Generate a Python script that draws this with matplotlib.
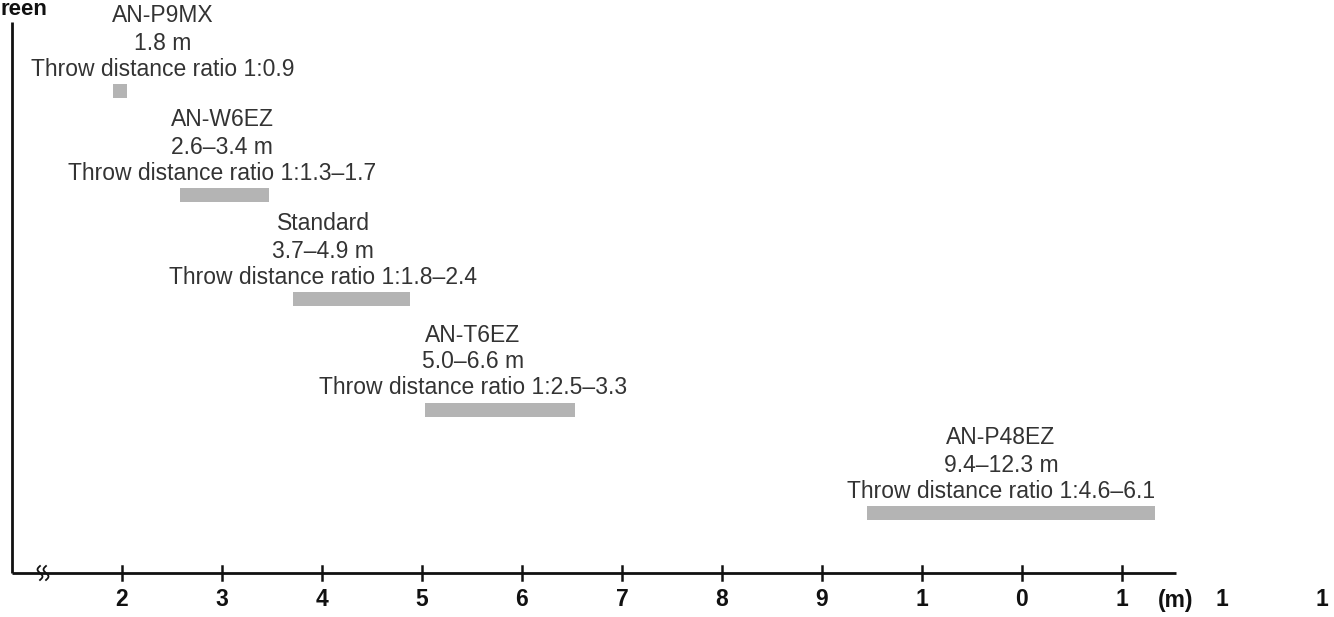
import numpy as np
import matplotlib.pyplot as plt

# data
models = ['AN-P9MX', 'AN-W6EZ', 'Standard', 'AN-T6EZ', 'AN-P48EZ']
ranges = ['1.8 m', '2.6–3.4 m', '3.7–4.9 m', '5.0–6.6 m', '9.4–12.3 m']
ratios = ['1:0.9', '1:1.3–1.7', '1:1.8–2.4', '1:2.5–3.3', '1:4.6–6.1']
bar_start = [1.91, 2.58, 3.71, 5.03, 9.45]
bar_end = [2.05, 3.47, 4.88, 6.53, 12.33]
text_x = [2.41, 3.0, 4.01, 5.51, 10.79]
tick_pos = [2, 3, 4, 5, 6, 7, 8, 9, 10, 11, 12]
tick_text = ['2', '3', '4', '5', '6', '7', '8', '9', '1', '0', '1']
extra_pos = [13, 14]
extra_text = ['1', '1']

# layout (vertical position of each bar, in pixel rows)
bar_y = [91, 195, 299, 410, 513]
axis_y = 573

plt.rcParams['font.family'] = ['Liberation Sans', 'DejaVu Sans']
fig = plt.figure(figsize=(13.34, 6.17), dpi=100)
ax = fig.add_axes([0, 0, 1, 1])
ax.set_xlim(0.78, 14.12)
ax.set_ylim(617, 0)
ax.axis('off')

grey = '#b4b4b4'
ink = '#333333'
fs = 16.5

# bars
widths = np.array(bar_end) - np.array(bar_start)
ax.barh(bar_y, widths, left=bar_start, height=14, color=grey)

# labels above bars
for i in range(len(models)):
    y = bar_y[i]
    ax.text(text_x[i], y - 75, models[i], ha='center', va='center', fontsize=fs, color=ink)
    ax.text(text_x[i], y - 48, ranges[i], ha='center', va='center', fontsize=fs, color=ink)
    ax.text(text_x[i], y - 22, 'Throw distance ratio ' + ratios[i], ha='center', va='center',
            fontsize=fs, color=ink)

# axes lines
ax.plot([0.9, 12.54], [axis_y, axis_y], color='#111111', lw=2, solid_capstyle='butt')
ax.plot([0.9, 0.9], [22, axis_y], color='#111111', lw=2, solid_capstyle='butt')

# ticks
tfs = 16.5
for p, t in zip(tick_pos, tick_text):
    ax.plot([p, p], [566, 580], color='#111111', lw=1.8)
    ax.text(p, 600, t, ha='center', va='center', fontsize=tfs, fontweight='bold', color='#111111')
ax.text(12.54, 600, '(m)', ha='center', va='center', fontsize=tfs, fontweight='bold', color='#111111')
for p, t in zip(extra_pos, extra_text):
    ax.text(p, 600, t, ha='center', va='center', fontsize=tfs, fontweight='bold', color='#111111')

# axis break mark
s = np.linspace(-1, 1, 20)
for dx in (1.18, 1.24):
    ax.plot(dx + 0.025 * np.sin(s * np.pi), axis_y + 7 * s, color='#111111', lw=1.3)

# y-axis title (only its end is visible in the original)
ax.text(0.785, 15, 'reen', ha='left', va='baseline', fontsize=16, fontweight='bold', color='#111111')

fig.savefig('out.png', dpi=100)
